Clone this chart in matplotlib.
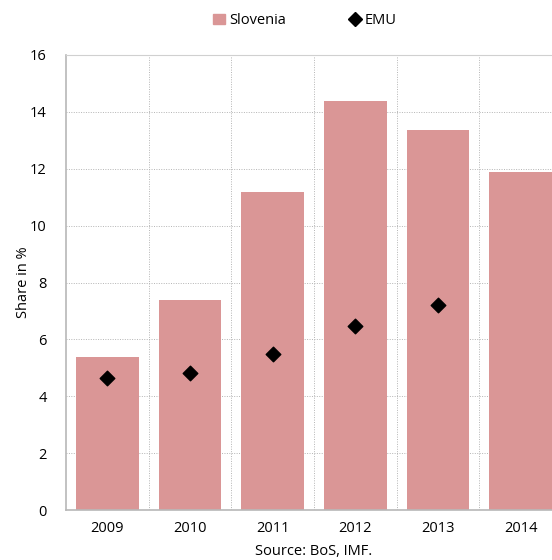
import numpy as np
import matplotlib.pyplot as plt
from matplotlib.lines import Line2D
from matplotlib.patches import Patch

years = ["2009", "2010", "2011", "2012", "2013", "2014"]
slovenia = [5.38, 7.38, 11.18, 14.38, 13.36, 11.88]
emu = [4.64, 4.82, 5.49, 6.47, 7.21]

plt.rcParams['font.family'] = ['Open Sans', 'DejaVu Sans']

fig = plt.figure(figsize=(5.52, 5.6), dpi=100)
# axes runs past the right edge of the figure
ax = fig.add_axes([66 / 552, 50 / 560, 496 / 552, 455 / 560])

x = np.arange(len(years))
ax.bar(x, slovenia, width=0.76, color='#da9696', zorder=2)
ax.scatter(x[:len(emu)], emu, marker='D', s=55, color='black', zorder=3)

ax.set_xlim(-0.5, len(years) - 0.5)
ax.set_ylim(0, 16)
ax.set_yticks(range(0, 17, 2))
ax.set_xticks(x)
ax.set_xticklabels(years)
ax.set_xticks(x[:-1] + 0.5, minor=True)
ax.tick_params(axis='both', which='both', length=0, labelsize=10.5)
ax.tick_params(axis='y', pad=14)
ax.tick_params(axis='x', pad=8)

grid_style = dict(color='#b4b4b4', linestyle=(0, (1, 1.5)), linewidth=0.7, zorder=0)
ax.grid(axis='y', which='major', **grid_style)
ax.grid(axis='x', which='minor', **grid_style)
ax.grid(axis='x', which='major', visible=False)

for side in ['left', 'bottom']:
    ax.spines[side].set_color('#b8b8b8')
    ax.spines[side].set_linewidth(1.2)
ax.spines['top'].set_color('#d0d0d0')
ax.spines['top'].set_linewidth(0.8)
ax.spines['right'].set_visible(False)

ax.set_ylabel('Share in %', fontsize=10.5)
ax.yaxis.set_label_coords(-0.07, 0.5)
ax.set_xlabel('Source: BoS, IMF.', fontsize=10.5, labelpad=6)

handles = [Patch(color='#da9696', label='Slovenia'),
           Line2D([], [], marker='D', color='black', linestyle='none', markersize=7, label='EMU')]
fig.legend(handles=handles, loc='upper center', bbox_to_anchor=(0.553, 1.0), ncol=2,
           frameon=False, fontsize=10.5, columnspacing=4.3, handlelength=0.8, handletextpad=0.3)

fig.savefig('out.png', dpi=100)
